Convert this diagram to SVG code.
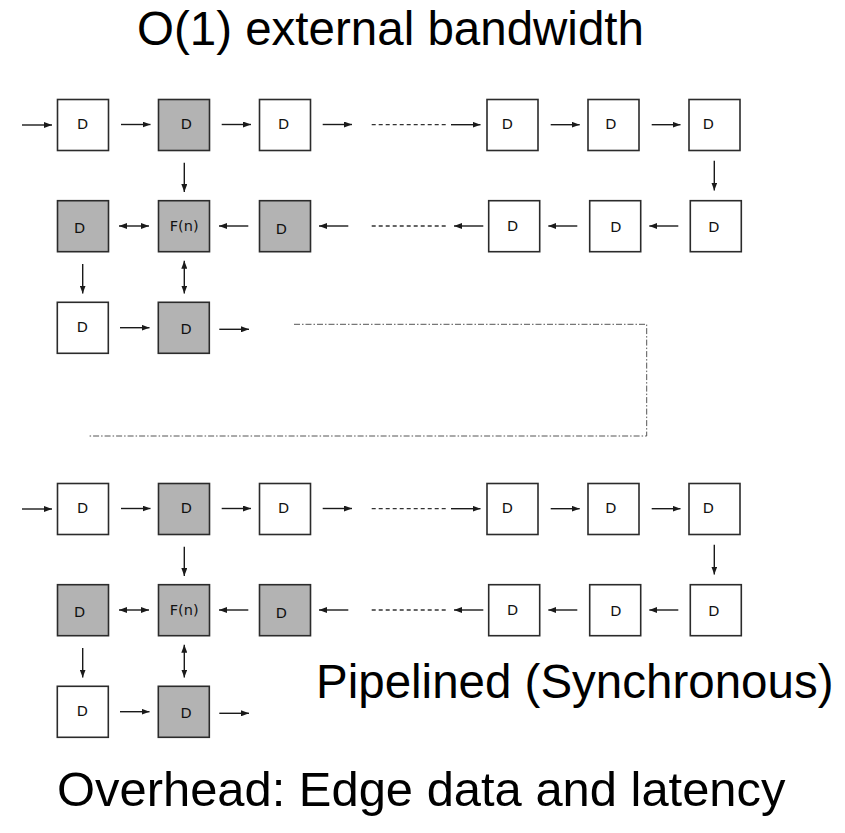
<svg xmlns="http://www.w3.org/2000/svg" width="845" height="833" viewBox="0 0 845 833">
  <defs>
    <style>
      .box { stroke: #2b2b2b; stroke-width: 1.6; }
      .w { fill: #ffffff; }
      .g { fill: #b3b3b3; }
      .lbl { font-family: "DejaVu Sans", Verdana, sans-serif; font-size: 14.5px; fill: #111; text-anchor: middle; }
      .arr { stroke: #1a1a1a; stroke-width: 1.4; fill: none; marker-end: url(#ah); }
      .bi { marker-start: url(#ahs); }
      .dash { stroke: #333; stroke-width: 1.3; stroke-dasharray: 4 3; fill: none; }
      .dd { stroke: #555; stroke-width: 1; stroke-dasharray: 6 2 1.5 2; fill: none; }
      .big { font-family: "Liberation Sans", Arial, sans-serif; fill: #000; }
    </style>
    <marker id="ah" viewBox="0 0 8 6" refX="8" refY="3" markerWidth="8" markerHeight="6" markerUnits="userSpaceOnUse" orient="auto">
      <path d="M0,0 L8,3 L0,6 z" fill="#1a1a1a"/>
    </marker>
    <marker id="ahs" viewBox="0 0 8 6" refX="0" refY="3" markerWidth="8" markerHeight="6" markerUnits="userSpaceOnUse" orient="auto">
      <path d="M8,0 L0,3 L8,6 z" fill="#1a1a1a"/>
    </marker>
  </defs>

  <rect width="845" height="833" fill="#ffffff"/>

  <text id="title" class="big" x="137" y="45" font-size="47.5">O(1) external bandwidth</text>

  <!-- upper pipeline -->
  <g id="top-array">
    <g id="t-r1c1"><rect class="box w" x="57.5" y="99.5" width="51" height="51"/><text class="lbl" x="82.5" y="129">D</text></g>
    <g id="t-r1c2"><rect class="box g" x="158.5" y="99.5" width="51" height="51"/><text class="lbl" x="186.3" y="129">D</text></g>
    <g id="t-r1c3"><rect class="box w" x="259.5" y="99.5" width="51" height="51"/><text class="lbl" x="283.5" y="129">D</text></g>
    <g id="t-r1c4"><rect class="box w" x="487" y="99.5" width="51" height="51"/><text class="lbl" x="507.3" y="129">D</text></g>
    <g id="t-r1c5"><rect class="box w" x="588" y="99.5" width="51" height="51"/><text class="lbl" x="610.8" y="129">D</text></g>
    <g id="t-r1c6"><rect class="box w" x="689" y="99.5" width="51" height="51"/><text class="lbl" x="708.3" y="129">D</text></g>

    <g id="t-r2c1"><rect class="box g" x="57.5" y="200.7" width="51" height="51"/><text class="lbl" x="79.5" y="233.3">D</text></g>
    <g id="t-r2c2"><rect class="box g" x="158.5" y="200.7" width="51" height="51"/><text class="lbl" x="184.2" y="230.5">F(n)</text></g>
    <g id="t-r2c3"><rect class="box g" x="259.5" y="200.7" width="51" height="51"/><text class="lbl" x="281.3" y="234">D</text></g>
    <g id="t-r2c4"><rect class="box w" x="488.7" y="200.7" width="51" height="51"/><text class="lbl" x="512.7" y="230.7">D</text></g>
    <g id="t-r2c5"><rect class="box w" x="589.7" y="200.7" width="51" height="51"/><text class="lbl" x="615.8" y="232.3">D</text></g>
    <g id="t-r2c6"><rect class="box w" x="690.3" y="200.7" width="51" height="51"/><text class="lbl" x="713.8" y="232.3">D</text></g>

    <g id="t-r3c1"><rect class="box w" x="57.3" y="302.3" width="51" height="51"/><text class="lbl" x="82.3" y="332.3">D</text></g>
    <g id="t-r3c2"><rect class="box g" x="158.3" y="302.3" width="51" height="51"/><text class="lbl" x="186.2" y="334">D</text></g>
  </g>

  <!-- lower pipeline -->
  <g id="bottom-array" transform="translate(0,384)">
    <g id="b-r1c1"><rect class="box w" x="57.5" y="99.5" width="51" height="51"/><text class="lbl" x="82.5" y="129">D</text></g>
    <g id="b-r1c2"><rect class="box g" x="158.5" y="99.5" width="51" height="51"/><text class="lbl" x="186.3" y="129">D</text></g>
    <g id="b-r1c3"><rect class="box w" x="259.5" y="99.5" width="51" height="51"/><text class="lbl" x="283.5" y="129">D</text></g>
    <g id="b-r1c4"><rect class="box w" x="487" y="99.5" width="51" height="51"/><text class="lbl" x="507.3" y="129">D</text></g>
    <g id="b-r1c5"><rect class="box w" x="588" y="99.5" width="51" height="51"/><text class="lbl" x="610.8" y="129">D</text></g>
    <g id="b-r1c6"><rect class="box w" x="689" y="99.5" width="51" height="51"/><text class="lbl" x="708.3" y="129">D</text></g>

    <g id="b-r2c1"><rect class="box g" x="57.5" y="200.7" width="51" height="51"/><text class="lbl" x="79.5" y="233.3">D</text></g>
    <g id="b-r2c2"><rect class="box g" x="158.5" y="200.7" width="51" height="51"/><text class="lbl" x="184.2" y="230.5">F(n)</text></g>
    <g id="b-r2c3"><rect class="box g" x="259.5" y="200.7" width="51" height="51"/><text class="lbl" x="281.3" y="234">D</text></g>
    <g id="b-r2c4"><rect class="box w" x="488.7" y="200.7" width="51" height="51"/><text class="lbl" x="512.7" y="230.7">D</text></g>
    <g id="b-r2c5"><rect class="box w" x="589.7" y="200.7" width="51" height="51"/><text class="lbl" x="615.8" y="232.3">D</text></g>
    <g id="b-r2c6"><rect class="box w" x="690.3" y="200.7" width="51" height="51"/><text class="lbl" x="713.8" y="232.3">D</text></g>

    <g id="b-r3c1"><rect class="box w" x="57.3" y="302.3" width="51" height="51"/><text class="lbl" x="82.3" y="332.3">D</text></g>
    <g id="b-r3c2"><rect class="box g" x="158.3" y="302.3" width="51" height="51"/><text class="lbl" x="186.2" y="334">D</text></g>
  </g>

  <!-- connectors -->
  <g id="connectors">
    <g id="top-links">
      <line class="arr" x1="22" y1="125" x2="52" y2="125"/>
      <line class="arr" x1="121" y1="124.5" x2="150.5" y2="124.5"/>
      <line class="arr" x1="221.7" y1="124.5" x2="251" y2="124.5"/>
      <line class="arr" x1="322.7" y1="124.5" x2="352" y2="124.5"/>
      <line class="dash" x1="371.7" y1="124.7" x2="448.3" y2="124.7"/>
      <line class="arr" x1="451" y1="124.7" x2="480.5" y2="124.7"/>
      <line class="arr" x1="550.7" y1="124.7" x2="579.7" y2="124.7"/>
      <line class="arr" x1="651.7" y1="124.7" x2="680.5" y2="124.7"/>
      <line class="arr" x1="714.3" y1="160.7" x2="714.3" y2="190.5"/>
      <line class="arr" x1="184.3" y1="162.7" x2="184.3" y2="192"/>

      <line class="arr" x1="678.3" y1="226" x2="649.3" y2="226"/>
      <line class="arr" x1="577.3" y1="226" x2="548.3" y2="226"/>
      <line class="arr" x1="483.3" y1="226" x2="454" y2="226"/>
      <line class="dash" x1="371.7" y1="226" x2="448.3" y2="226"/>
      <line class="arr" x1="348.3" y1="226" x2="319" y2="226"/>
      <line class="arr" x1="248.3" y1="226" x2="219" y2="226"/>
      <line class="arr bi" x1="119" y1="226" x2="149" y2="226"/>

      <line class="arr" x1="82.7" y1="264" x2="82.7" y2="293.5"/>
      <line class="arr bi" x1="184.3" y1="260.7" x2="184.3" y2="293.5"/>

      <line class="arr" x1="120" y1="327.7" x2="149.5" y2="327.7"/>
      <line class="arr" x1="219.3" y1="329.3" x2="249" y2="329.3"/>
    </g>

    <path id="wrap-link" class="dd" d="M294,324.3 H646.7 V436 H88"/>

    <g id="bottom-links" transform="translate(0,384)">
      <line class="arr" x1="22" y1="125" x2="52" y2="125"/>
      <line class="arr" x1="121" y1="124.5" x2="150.5" y2="124.5"/>
      <line class="arr" x1="221.7" y1="124.5" x2="251" y2="124.5"/>
      <line class="arr" x1="322.7" y1="124.5" x2="352" y2="124.5"/>
      <line class="dash" x1="371.7" y1="124.7" x2="448.3" y2="124.7"/>
      <line class="arr" x1="451" y1="124.7" x2="480.5" y2="124.7"/>
      <line class="arr" x1="550.7" y1="124.7" x2="579.7" y2="124.7"/>
      <line class="arr" x1="651.7" y1="124.7" x2="680.5" y2="124.7"/>
      <line class="arr" x1="714.3" y1="160.7" x2="714.3" y2="190.5"/>
      <line class="arr" x1="184.3" y1="162.7" x2="184.3" y2="192"/>

      <line class="arr" x1="678.3" y1="226" x2="649.3" y2="226"/>
      <line class="arr" x1="577.3" y1="226" x2="548.3" y2="226"/>
      <line class="arr" x1="483.3" y1="226" x2="454" y2="226"/>
      <line class="dash" x1="371.7" y1="226" x2="448.3" y2="226"/>
      <line class="arr" x1="348.3" y1="226" x2="319" y2="226"/>
      <line class="arr" x1="248.3" y1="226" x2="219" y2="226"/>
      <line class="arr bi" x1="119" y1="226" x2="149" y2="226"/>

      <line class="arr" x1="82.7" y1="264" x2="82.7" y2="293.5"/>
      <line class="arr bi" x1="184.3" y1="260.7" x2="184.3" y2="293.5"/>

      <line class="arr" x1="120" y1="327.7" x2="149.5" y2="327.7"/>
      <line class="arr" x1="219.3" y1="329.3" x2="249" y2="329.3"/>
    </g>
  </g>

  <text id="mode" class="big" x="316" y="698" font-size="47.5">Pipelined (Synchronous)</text>
  <text id="overhead" class="big" x="57" y="806" font-size="48.9">Overhead: Edge data and latency</text>
</svg>
